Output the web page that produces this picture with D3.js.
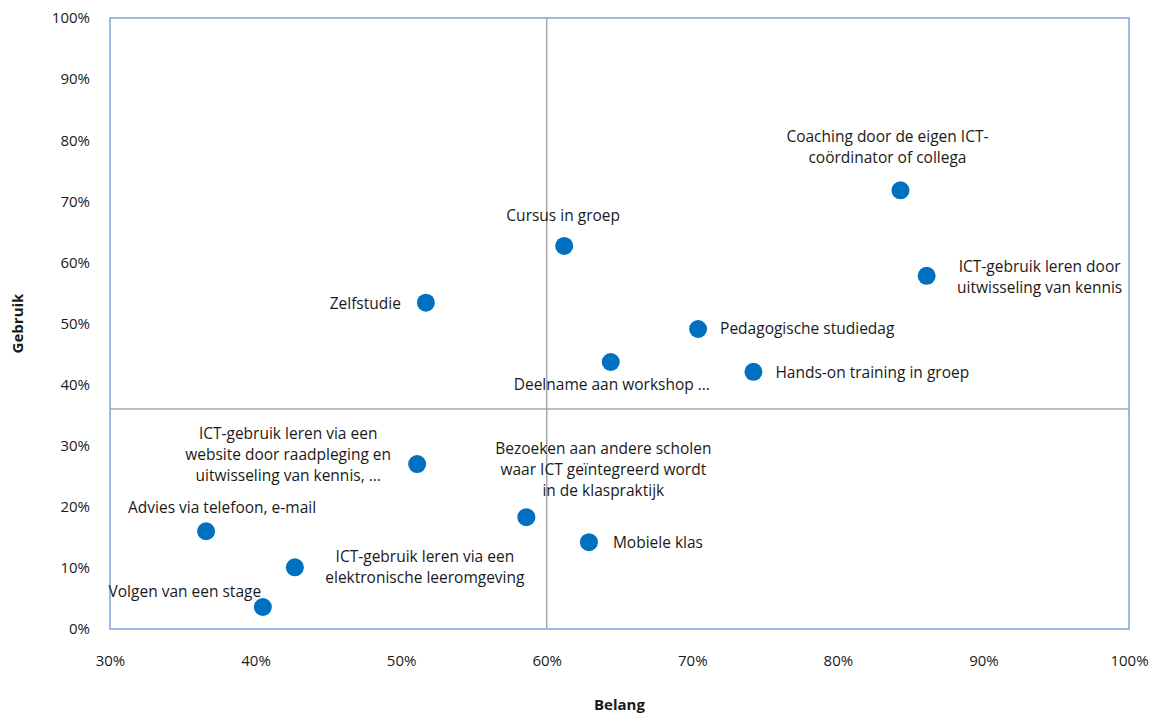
<!DOCTYPE html>
<html>
<head>
<meta charset="utf-8">
<script src="https://cdn.jsdelivr.net/npm/d3@7"></script>
<style>
  html, body { margin: 0; padding: 0; background: #fff; }
  svg text { font-family: "Open Sans", "Liberation Sans", sans-serif; fill: #1a1a1a; }
</style>
</head>
<body>
<svg id="chart" width="1159" height="717"></svg>
<script>
// Learning forms: importance (Belang) vs. usage (Gebruik), in percent
const names = [
  "Coaching door de eigen ICT-\ncoördinator of collega",
  "ICT-gebruik leren door\nuitwisseling van kennis",
  "Cursus in groep",
  "Zelfstudie",
  "Pedagogische studiedag",
  "Deelname aan workshop …",
  "Hands-on training in groep",
  "ICT-gebruik leren via een\nwebsite door raadpleging en\nuitwisseling van kennis, …",
  "Bezoeken aan andere scholen\nwaar ICT geïntegreerd wordt\nin de klaspraktijk",
  "Mobiele klas",
  "Advies via telefoon, e-mail",
  "ICT-gebruik leren via een\nelektronische leeromgeving",
  "Volgen van een stage"
];
const belang  = [84.3, 86.1, 61.2, 51.7, 70.4, 64.4, 74.2, 51.1, 58.6, 62.9, 36.6, 42.7, 40.5];
const gebruik = [71.8, 57.8, 62.7, 53.4, 49.1, 43.7, 42.1, 27.0, 18.3, 14.2, 16.0, 10.1, 3.6];

// Quadrant dividers (averages)
const belangMid = 60.0;
const gebruikMid = 36.0;

const xTicks = [30, 40, 50, 60, 70, 80, 90, 100];
const yTicks = [0, 10, 20, 30, 40, 50, 60, 70, 80, 90, 100];

// Label placement relative to each marker: [dx, dy of first line, anchor]
const labelPlacement = [
  [-13, -53, "middle"],
  [113, -9, "middle"],
  [-1, -30, "middle"],
  [-25, 1, "end"],
  [22, 0, "start"],
  [1, 23, "middle"],
  [22, 1, "start"],
  [-129, -30, "middle"],
  [77, -68, "middle"],
  [24, 1, "start"],
  [16, -23, "middle"],
  [130, -10, "middle"],
  [-78, -15, "middle"]
];

const svg = d3.select("#chart");
const margin = { left: 110, top: 18, right: 30, bottom: 88 };
const W = 1159, H = 717;
const fs = "15.5px";

const x = d3.scaleLinear().domain([30, 100]).range([margin.left, W - margin.right]);
const y = d3.scaleLinear().domain([0, 100]).range([H - margin.bottom, margin.top]);

// Plot area frame
svg.append("rect")
  .attr("x", x(30)).attr("y", y(100))
  .attr("width", x(100) - x(30)).attr("height", y(0) - y(100))
  .attr("fill", "none").attr("stroke", "#7ea3d6").attr("stroke-width", 1.5);

// Axes (labels only)
const xAxis = d3.axisBottom(x).tickValues(xTicks).tickFormat(d => d + "%").tickSize(0).tickPadding(26);
const yAxis = d3.axisLeft(y).tickValues(yTicks).tickFormat(d => d + "%").tickSize(0).tickPadding(20);

const gx = svg.append("g").attr("transform", `translate(0,${y(0)})`).call(xAxis);
const gy = svg.append("g").attr("transform", `translate(${x(30)},0)`).call(yAxis);
[gx, gy].forEach(g => {
  g.select(".domain").remove();
  g.selectAll("text").style("font-size", "15px").attr("fill", "#1a1a1a");
});

// Quadrant lines
svg.append("line")
  .attr("x1", x(belangMid)).attr("x2", x(belangMid))
  .attr("y1", y(100)).attr("y2", y(0))
  .attr("stroke", "#a6a6a6").attr("stroke-width", 1.5);
svg.append("line")
  .attr("x1", x(30)).attr("x2", x(100))
  .attr("y1", y(gebruikMid)).attr("y2", y(gebruikMid))
  .attr("stroke", "#a6a6a6").attr("stroke-width", 1.5);

// Axis titles
svg.append("text")
  .attr("x", (x(30) + x(100)) / 2).attr("y", 710)
  .attr("text-anchor", "middle")
  .style("font-size", "15px").style("font-weight", "bold")
  .text("Belang");
svg.append("text")
  .attr("transform", `translate(23,${(y(0) + y(100)) / 2}) rotate(-90)`)
  .attr("text-anchor", "middle")
  .style("font-size", "15px").style("font-weight", "bold")
  .text("Gebruik");

// Points
const data = names.map((n, i) => ({ name: n, b: belang[i], g: gebruik[i], p: labelPlacement[i] }));

svg.append("g").selectAll("circle").data(data).join("circle")
  .attr("cx", d => x(d.b)).attr("cy", d => y(d.g))
  .attr("r", 9).attr("fill", "#0070c0");

// Labels
const labels = svg.append("g").selectAll("text").data(data).join("text")
  .attr("text-anchor", d => d.p[2])
  .style("font-size", fs)
  .attr("x", d => x(d.b) + d.p[0])
  .attr("y", d => y(d.g) + d.p[1] + 5);

labels.each(function(d) {
  const t = d3.select(this);
  d.name.split("\n").forEach((line, k) => {
    t.append("tspan")
      .attr("x", x(d.b) + d.p[0])
      .attr("dy", k === 0 ? 0 : 21)
      .text(line);
  });
});
</script>
</body>
</html>
